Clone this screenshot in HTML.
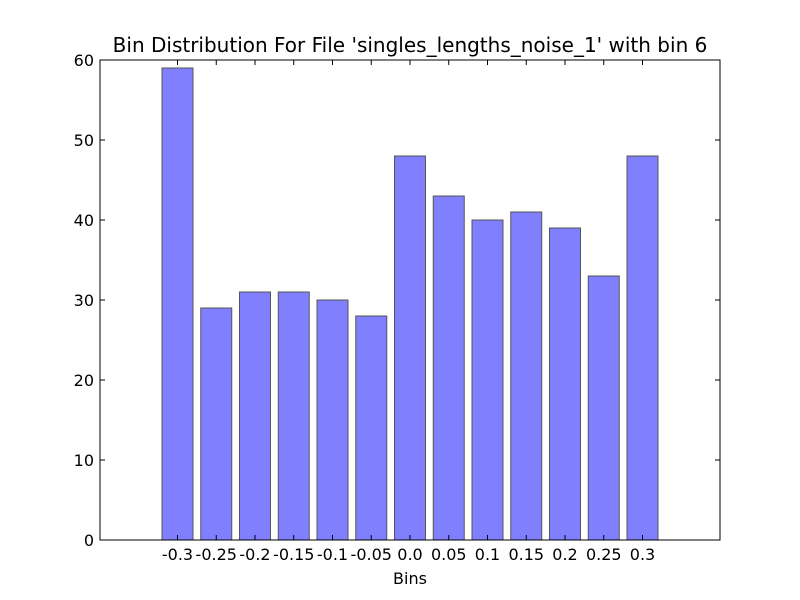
<!DOCTYPE html>
<html><head><meta charset="utf-8"><style>body{margin:0;background:#fff}svg{display:block;font-family:"DejaVu Sans","Liberation Sans",sans-serif}</style></head>
<body>
<svg id="chart" width="800" height="600">
<rect width="800" height="600" fill="#fff"/>
<text x="410" y="52" text-anchor="middle" font-size="20">Bin Distribution For File 'singles_lengths_noise_1' with bin 6</text>
<g id="bars"></g><g id="axes"></g>
<text x="410" y="584" text-anchor="middle" font-size="16">Bins</text>
</svg>
<script>
const categories=["-0.3","-0.25","-0.2","-0.15","-0.1","-0.05","0.0","0.05","0.1","0.15","0.2","0.25","0.3"];
const values=[59,29,31,31,30,28,48,43,40,41,39,33,48];
const yTicks=[0,10,20,30,40,50,60];
const L=100,R=720,T=60,B=540,yMax=60;
const xs=i=>L+(i+2)*(R-L)/(categories.length+3);
const ys=v=>B-v*(B-T)/yMax;
const ns="http://www.w3.org/2000/svg";
const bars=document.getElementById('bars'),axes=document.getElementById('axes');
const step=(R-L)/(categories.length+3);
function mk(tag,attrs,parent){const e=document.createElementNS(ns,tag);for(const k in attrs)e.setAttribute(k,attrs[k]);parent.appendChild(e);return e;}
values.forEach((v,i)=>{
  const r=mk('rect',{x:xs(i)-step*0.4,y:ys(v),width:step*0.8,height:ys(0)-ys(v),fill:'#8080ff',stroke:'#555','stroke-width':1},bars);
  
  
  mk('line',{x1:xs(i),x2:xs(i),y1:B,y2:B-5,stroke:'#000'},axes);
  mk('line',{x1:xs(i),x2:xs(i),y1:T,y2:T+5,stroke:'#000'},axes);
  const t=mk('text',{x:xs(i),y:B+20,'text-anchor':'middle','font-size':16},axes);
  t.textContent=categories[i];
  
  
});
yTicks.forEach(v=>{
  mk('line',{x1:L,x2:L+5,y1:ys(v),y2:ys(v),stroke:'#000'},axes);
  mk('line',{x1:R,x2:R-5,y1:ys(v),y2:ys(v),stroke:'#000'},axes);
  const t=mk('text',{x:L-6,y:ys(v)+6,'text-anchor':'end','font-size':16},axes);
  t.textContent=v;
  
  
});
const f=mk('rect',{x:L,y:T,width:R-L,height:B-T,fill:'none',stroke:'#000'},axes);


</script>
</body></html>
